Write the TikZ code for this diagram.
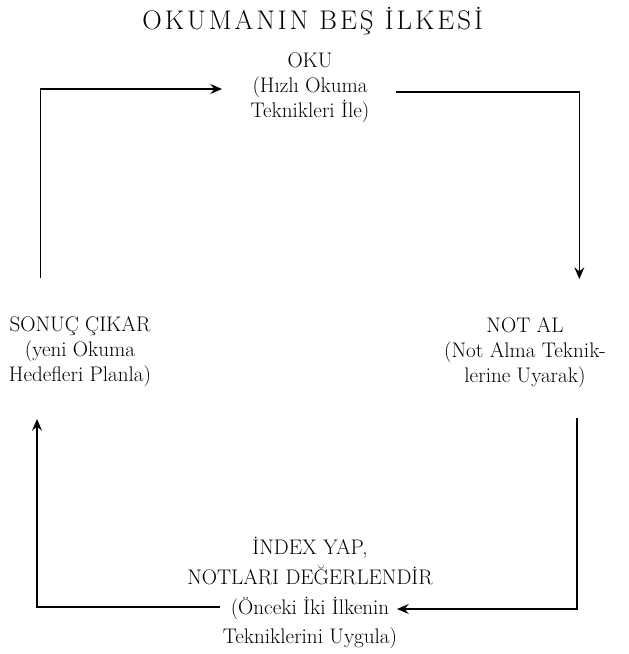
\documentclass[tikz,border=0pt]{standalone}
\usepackage{fontspec}
\usepackage{tikz}
\usetikzlibrary{positioning, arrows.meta, calc}

\newfontfamily\titlefont[LetterSpace=11]{Latin Modern Roman}

\begin{document}
\begin{tikzpicture}[
  >={Stealth[length=10pt, width=8.5pt, inset=3.5pt]},
  stage/.style={align=center, inner sep=2pt,
                font=\fontsize{18}{21.3}\selectfont},
  flow/.style={->, line width=0.9pt},
]
  \useasboundingbox (0,0) rectangle (18.87,-19.62);

  % title
  \node[font=\titlefont\fontsize{23}{26}\selectfont] (title) at (9.38,-0.62) {OKUMANIN BEŞ İLKESİ};

  % the four stages
  \node[stage] (oku) at (9.3,-2.64) {OKU\\(Hızlı Okuma\\Teknikleri İle)};
  \node[stage] (notal) at (15.75,-10.59) {NOT AL\\(Not Alma Teknik-\\lerine Uyarak)};
  \node[stage] (sonuc) at (2.4,-10.56) {SONUÇ ÇIKAR\\(yeni Okuma\\Hedefleri Planla)};
  \node[stage, font=\fontsize{18}{25.5}\selectfont] (index) at (9.3,-17.79)
    {İNDEX YAP,\\NOTLARI DEĞERLENDİR\\(Önceki İki İlkenin\\Tekniklerini Uygula)};

  % free ends of the connectors
  \coordinate (sonuc-top) at (1.22,-8.34);
  \coordinate (notal-top) at (17.38,-8.37);
  \coordinate (notal-bot) at (17.31,-12.54);
  \coordinate (sonuc-bot) at (1.11,-12.57);

  \draw[flow] (sonuc-top) |- ($(oku.center)+(-2.64,-0.03)$);
  \draw[flow] ($(oku.center)+(2.58,-0.12)$) -| (notal-top);
  \draw[flow] (notal-bot) |- ($(index.center)+(2.61,-0.48)$);
  \draw[flow] ($(index.center)+(-2.7,-0.42)$) -| (sonuc-bot);
\end{tikzpicture}
\end{document}
